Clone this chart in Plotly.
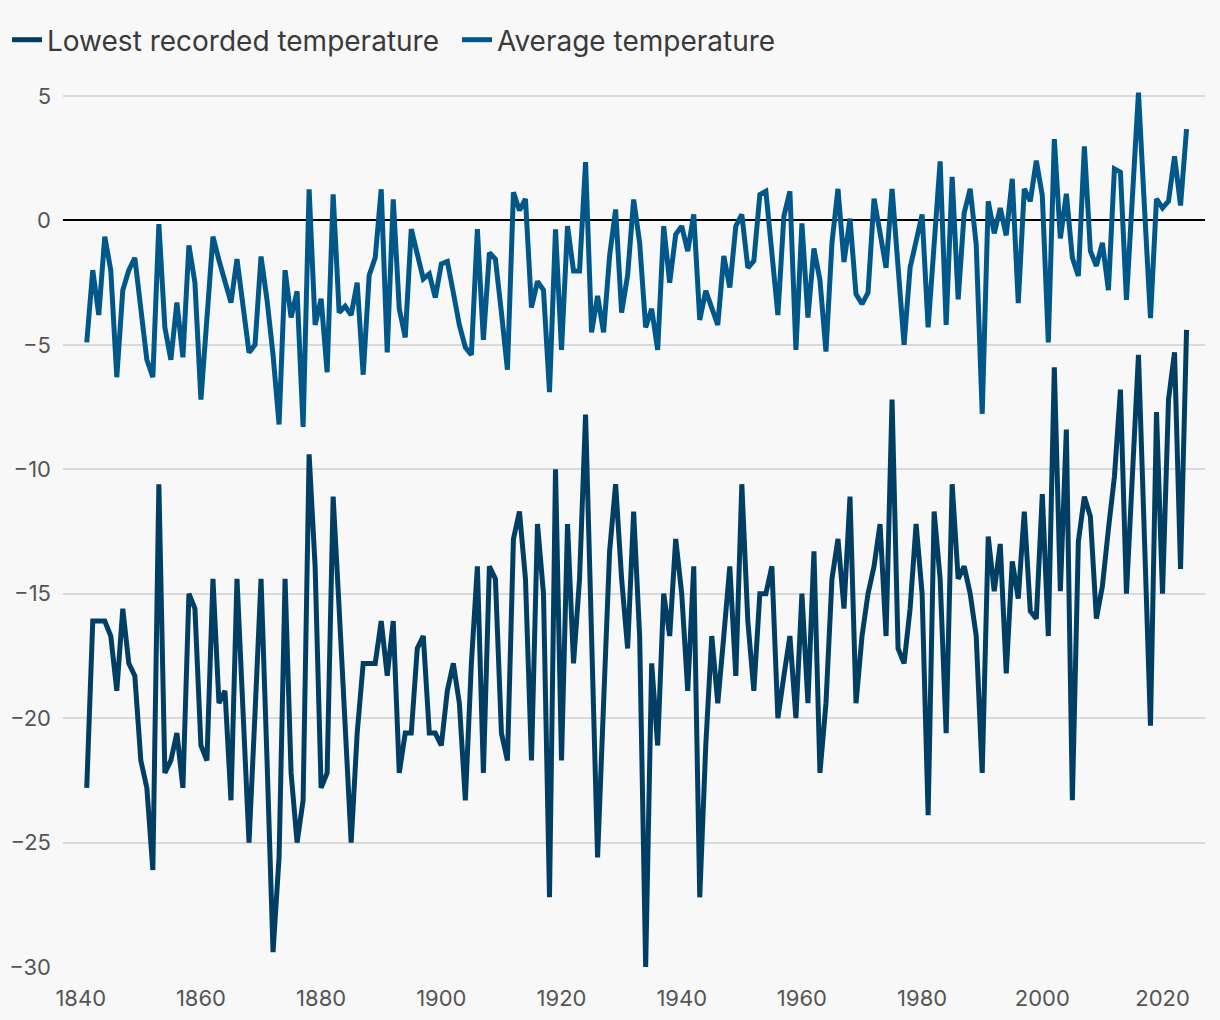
import plotly.graph_objects as go

years = list(range(1841, 2025))

avg_temp = [
    -4.9, -2.0, -3.8, -0.65, -2.0, -6.3, -2.8, -2.0, -1.5, -3.6,
    -5.6, -6.3, -0.15, -4.3, -5.6, -3.3, -5.5, -1.0, -2.5, -7.2,
    -3.9, -0.65, -1.6, -2.5, -3.3, -1.55, -3.4, -5.3, -5.0, -1.45,
    -3.2, -5.4, -8.2, -2.0, -3.9, -2.85, -8.3, 1.25, -4.2, -3.15,
    -6.1, 1.05, -3.7, -3.45, -3.8, -2.5, -6.2, -2.2, -1.5, 1.25,
    -5.3, 0.85, -3.55, -4.7, -0.35, -1.3, -2.35, -2.15, -3.1, -1.75,
    -1.65, -2.9, -4.2, -5.1, -5.4, -0.35, -4.8, -1.3, -1.55, -3.7,
    -6.0, 1.13, 0.4, 0.87, -3.5, -2.45, -2.8, -6.9, -0.36, -5.2,
    -0.23, -2.03, -2.03, 2.34, -4.5, -3.03, -4.5, -1.43, 0.44, -3.7,
    -2.2, 0.84, -0.9, -4.3, -3.55, -5.2, -0.23, -2.5, -0.56, -0.23,
    -1.23, 0.24, -4.0, -2.83, -3.56, -4.2, -1.43, -2.7, -0.23, 0.24,
    -1.9, -1.63, 1.04, 1.17, -1.3, -3.8, 0.17, 1.17, -5.2, -0.12,
    -3.9, -1.13, -2.4, -5.27, -0.9, 1.27, -1.67, 0.07, -2.96, -3.36,
    -2.9, 0.87, -0.5, -1.9, 1.27, -1.9, -5.0, -1.9, -0.76, 0.24,
    -4.3, -1.0, 2.37, -4.2, 1.75, -3.17, 0.3, 1.27, -0.96, -7.77,
    0.77, -0.52, 0.5, -0.6, 1.67, -3.32, 1.27, 0.77, 2.4, 1.0,
    -4.9, 3.27, -0.72, 1.07, -1.5, -2.23, 2.98, -1.23, -1.83, -0.9,
    -2.8, 2.07, 1.94, -3.19, 1.0, 5.14, 0.5, -3.93, 0.87, 0.5,
    0.77, 2.58, 0.6, 3.67,
]

lowest_temp = [
    -22.8, -16.1, -16.1, -16.1, -16.7, -18.9, -15.6, -17.8, -18.3, -21.7,
    -22.8, -26.1, -10.6, -22.2, -21.7, -20.6, -22.8, -15.0, -15.6, -21.1,
    -21.7, -14.4, -19.4, -18.9, -23.3, -14.4, -19.7, -25.0, -19.8, -14.4,
    -21.7, -29.4, -25.6, -14.4, -22.2, -25.0, -23.3, -9.4, -13.9, -22.8,
    -22.2, -11.1, -15.6, -20.3, -25.0, -20.6, -17.8, -17.8, -17.8, -16.1,
    -18.3, -16.1, -22.2, -20.6, -20.6, -17.2, -16.7, -20.6, -20.6, -21.1,
    -18.9, -17.8, -19.4, -23.3, -17.8, -13.9, -22.2, -13.9, -14.4, -20.6,
    -21.7, -12.8, -11.7, -14.4, -21.7, -12.2, -15.0, -27.2, -10.0, -21.7,
    -12.2, -17.8, -14.4, -7.8, -17.2, -25.6, -19.4, -13.3, -10.6, -14.4,
    -17.2, -11.7, -16.7, -30.0, -17.8, -21.1, -15.0, -16.7, -12.8, -15.0,
    -18.9, -13.9, -27.2, -21.1, -16.7, -19.4, -16.7, -13.9, -18.3, -10.6,
    -16.1, -18.9, -15.0, -15.0, -13.9, -20.0, -18.3, -16.7, -20.0, -15.0,
    -19.4, -13.3, -22.2, -19.4, -14.4, -12.8, -15.6, -11.1, -19.4, -16.7,
    -15.0, -13.9, -12.2, -16.7, -7.2, -17.2, -17.8, -15.6, -12.2, -15.0,
    -23.9, -11.7, -14.4, -20.6, -10.6, -14.4, -13.9, -15.0, -16.7, -22.2,
    -12.7, -14.9, -13.0, -18.2, -13.7, -15.2, -11.7, -15.7, -16.0, -11.0,
    -16.7, -5.9, -14.9, -8.4, -23.3, -12.9, -11.1, -11.9, -16.0, -14.7,
    -12.4, -10.3, -6.8, -15.0, -10.2, -5.4, -12.8, -20.3, -7.7, -15.0,
    -7.2, -5.3, -14.0, -4.4,
]

assert len(avg_temp) == len(years) and len(lowest_temp) == len(years)

x_ticks = [1840, 1860, 1880, 1900, 1920, 1940, 1960, 1980, 2000, 2020]
y_ticks = [5, 0, -5, -10, -15, -20, -25, -30]

COL_LOW = "#003f63"
COL_AVG = "#00588a"
BG = "#f8f8f8"

fig = go.Figure()
fig.add_trace(go.Scatter(
    x=years, y=lowest_temp, mode="lines", name="Lowest recorded temperature",
    line=dict(color=COL_LOW, width=5),
))
fig.add_trace(go.Scatter(
    x=years, y=avg_temp, mode="lines", name="Average temperature",
    line=dict(color=COL_AVG, width=5),
))

fig.update_layout(
    width=1220, height=1020,
    paper_bgcolor=BG, plot_bgcolor=BG,
    margin=dict(l=63, r=15, t=70, b=53, autoexpand=False),
    font=dict(family="Inter, Roboto, sans-serif", color="#555555"),
    showlegend=True,
    legend=dict(
        orientation="h", xref="container", yref="container",
        x=7 / 1220, xanchor="left", y=1 - 40 / 1020, yanchor="middle",
        font=dict(size=28, color="#3a3a3a"),
        bgcolor="rgba(0,0,0,0)", itemwidth=30, tracegroupgap=0,
        entrywidth=405,
    ),
    xaxis=dict(
        range=[1837.05, 2027.07], tickmode="array", tickvals=x_ticks,
        showgrid=False, zeroline=False, showline=False,
        ticks="", ticklabelstandoff=16,
        tickfont=dict(size=22, color="#555555"),
    ),
    yaxis=dict(
        range=[-30, 6.045], tickmode="array", tickvals=y_ticks,
        showgrid=True, gridcolor="#dadada", gridwidth=2,
        zeroline=True, zerolinecolor="#000000", zerolinewidth=2,
        showline=False, ticks="", ticklabelstandoff=11,
        tickfont=dict(size=22, color="#555555"),
    ),
)

fig.write_html("out.html")
